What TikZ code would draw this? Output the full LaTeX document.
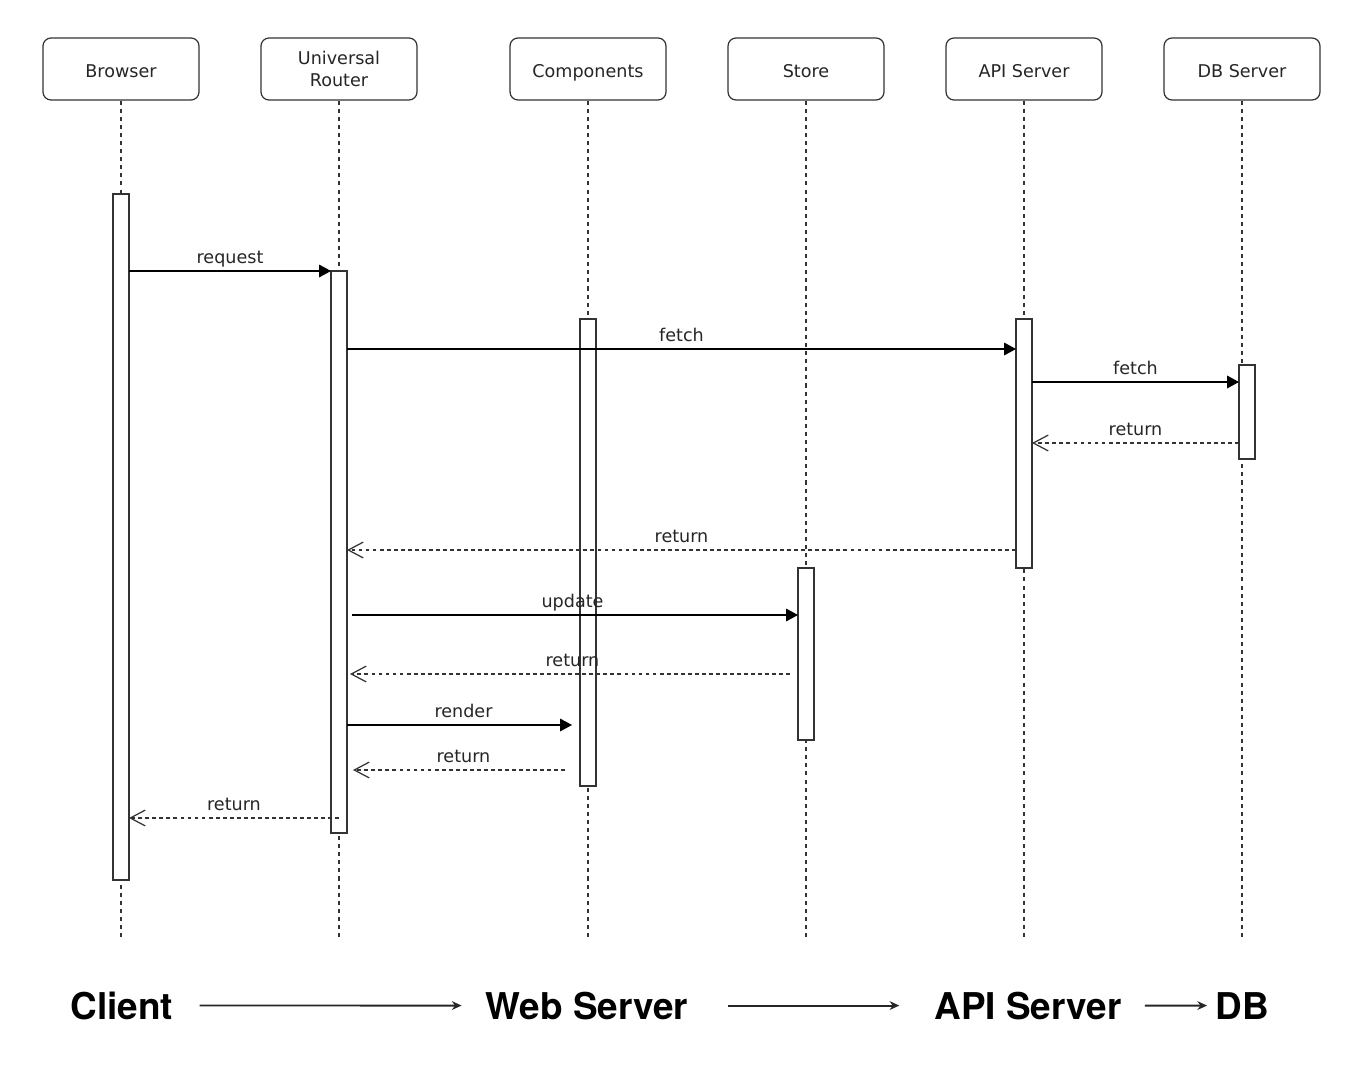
\documentclass[tikz,border=0pt]{standalone}
\usepackage{fontspec}
\setmainfont{DejaVu Sans}
\newfontfamily\layerfont{TeX Gyre Heros}
\usetikzlibrary{arrows.meta}

\tikzset{
  actor/.style={draw=black!80, fill=white, line width=0.7pt, rounded corners=0.16cm,
    minimum width=3.12cm, minimum height=1.24cm, align=center,
    font=\fontsize{10}{12.5}\selectfont, text=black!85},
  oneline/.style={text height=1em, text depth=0pt},
  lifeline/.style={draw=black!80, line width=0.7pt, dash pattern=on 2.3pt off 2.3pt},
  activation/.style={draw=black!80, fill=white, line width=0.8pt,
    minimum width=0.32cm, inner sep=0pt, outer sep=0pt},
  call/.style={draw=black, line width=0.7pt, -{Triangle[length=6.8pt,width=7.2pt]}},
  reply/.style={draw=black!80, line width=0.7pt, dash pattern=on 2.2pt off 1.8pt,
    -{Straight Barb[length=8.5pt,width=9pt]}},
  msglabel/.style={above, inner sep=1.5pt, text height=0.76em, text depth=0.24em,
    font=\fontsize{10}{12}\selectfont, text=black!85},
  layer/.style={font=\layerfont\bfseries\fontsize{21}{25}\selectfont, inner sep=0pt, anchor=base},
  flow/.style={draw=black!85, line width=1.1pt, -{Stealth[length=5.5pt,width=5pt]}}
}

\begin{document}
\begin{tikzpicture}[x=0.02cm, y=-0.02cm]
\useasboundingbox (0,0) rectangle (1365,1081);

% participants
\node[actor, oneline] (browser) at (121,69) {Browser};
\node[actor] (router) at (339,69) {Universal\\Router};
\node[actor, oneline] (components) at (588,69) {Components};
\node[actor, oneline] (store) at (806,69) {Store};
\node[actor, oneline] (api) at (1024,69) {API Server};
\node[actor, oneline] (db) at (1242,69) {DB Server};

% lifelines
\coordinate (browserEnd) at (121,938);
\coordinate (routerEnd) at (339,938);
\coordinate (componentsEnd) at (588,938);
\coordinate (storeEnd) at (806,938);
\coordinate (apiEnd) at (1024,938);
\coordinate (dbEnd) at (1242,938);
\draw[lifeline] (browser.south) -- (browserEnd);
\draw[lifeline] (router.south) -- (routerEnd);
\draw[lifeline] (components.south) -- (componentsEnd);
\draw[lifeline] (store.south) -- (storeEnd);
\draw[lifeline] (api.south) -- (apiEnd);
\draw[lifeline] (db.south) -- (dbEnd);

% activations
\node[activation, minimum height=13.72cm] (browserAct) at (121,537) {};
\node[activation, minimum height=11.24cm] (routerAct) at (339,552) {};
\node[activation, minimum height=9.34cm] (componentsAct) at (588,552.5) {};
\node[activation, minimum height=4.98cm] (apiAct) at (1024,443.5) {};
\node[activation, minimum height=1.88cm] (dbAct) at (1247,412) {};
\node[activation, minimum height=3.44cm] (storeAct) at (806,654) {};

% messages
\draw[call] (browserAct.east |- 0,271) -- node[msglabel] {request} (routerAct.west |- 0,271);
\draw[call] (routerAct.east |- 0,349) -- node[msglabel] {fetch} (apiAct.west |- 0,349);
\draw[call] (apiAct.east |- 0,382) -- node[msglabel] {fetch} (dbAct.west |- 0,382);
\draw[reply] (dbAct.west |- 0,443) -- node[msglabel] {return} (apiAct.east |- 0,443);
\draw[reply] (apiAct.west |- 0,550) -- node[msglabel] {return} (routerAct.east |- 0,550);
\draw[call, shorten <=3pt] (routerAct.east |- 0,615) -- node[msglabel] {update} (storeAct.west |- 0,615);
\draw[reply, shorten <=0.16cm, shorten >=0.06cm] (storeAct.west |- 0,674) -- node[msglabel] {return} (routerAct.east |- 0,674);
\draw[call, shorten >=0.16cm] (routerAct.east |- 0,725) -- node[msglabel] {render} (componentsAct.west |- 0,725);
\draw[reply, shorten <=0.3cm, shorten >=0.12cm] (componentsAct.west |- 0,770) -- node[msglabel] {return} (routerAct.east |- 0,770);
\draw[reply] (routerAct.center |- 0,818) -- node[msglabel] {return} (browserAct.east |- 0,818);

% layers
\node[layer] (client) at (122,1019) {Client};
\node[layer] (web) at (587,1019) {Web Server};
\node[layer] (apiLayer) at (1028,1019) {API Server};
\node[layer] (dbLayer) at (1242,1019) {DB};
\draw[flow, shorten <=0.52cm, shorten >=0.48cm] (client.east) -- (web.west);
\draw[flow, shorten <=0.8cm, shorten >=0.7cm] (web.east) -- (apiLayer.west);
\draw[flow, shorten <=0.46cm, shorten >=0.16cm] (apiLayer.east) -- (dbLayer.west);
\end{tikzpicture}
\end{document}
